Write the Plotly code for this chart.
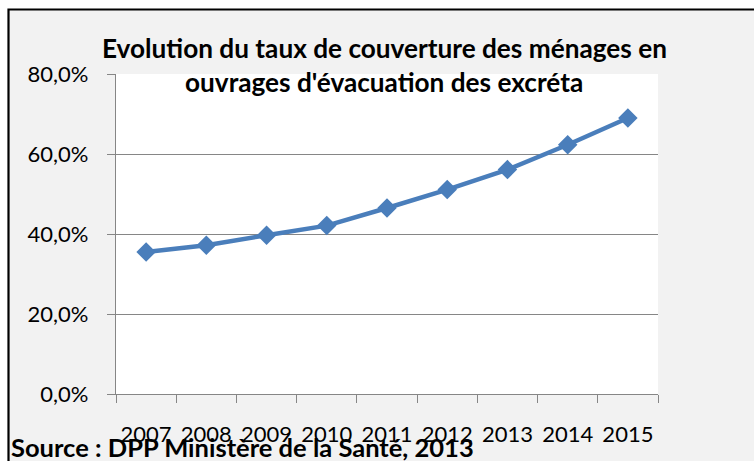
import plotly.graph_objects as go

years = ["2007", "2008", "2009", "2010", "2011", "2012", "2013", "2014", "2015"]
taux = [35.5, 37.2, 39.7, 42.1, 46.5, 51.1, 56.1, 62.3, 69.0]
y_ticks = [0, 20, 40, 60, 80]
y_tick_text = [f"{v:.1f}".replace(".", ",") + "%" for v in y_ticks]
title_l1 = "Evolution du taux de couverture des ménages en"
title_l2 = "ouvrages d'évacuation des excréta"
source = "Source : DPP Ministère de la Santé, 2013"

W, H = 754, 461
L, R, T, B = 116, 96, 74, 67
pw, ph = W - L - R, H - T - B

def px(x):
    return (x - L) / pw

def py(y):
    return (H - B - y) / ph

FONT = "Lato"
GRID = "#868686"

fig = go.Figure()
fig.add_trace(go.Scatter(
    x=years, y=taux, mode="lines+markers",
    line=dict(color="#4a7ebb", width=4.5),
    marker=dict(symbol="diamond", size=15, color="#4a7ebb"),
    showlegend=False, hoverinfo="x+y",
))

fig.update_layout(
    width=W, height=H,
    margin=dict(l=L, r=R, t=T, b=B, pad=0, autoexpand=False),
    paper_bgcolor="white",
    plot_bgcolor="white",
    font=dict(family=FONT, size=22, color="#000000"),
    shapes=[
        dict(type="rect", xref="paper", yref="paper",
             x0=px(8.5), x1=px(780), y0=py(9.5), y1=py(490),
             fillcolor="#f2f2f2", line=dict(color="black", width=2.2), layer="below"),
        dict(type="rect", xref="paper", yref="paper",
             x0=0, x1=1, y0=0, y1=1,
             fillcolor="white", line=dict(width=0), layer="below"),
    ],
    annotations=[
        dict(text="<b>" + title_l1 + "</b>", xref="paper", yref="paper",
             x=px(384), y=py(48), xanchor="center", yanchor="middle",
             showarrow=False, font=dict(size=26.2, family=FONT)),
        dict(text="<b>" + title_l2 + "</b>", xref="paper", yref="paper",
             x=px(384), y=py(82), xanchor="center", yanchor="middle",
             showarrow=False, font=dict(size=26.2, family=FONT)),
        dict(text="<b>" + source + "</b>", xref="paper", yref="paper",
             x=px(9), y=py(447), xanchor="left", yanchor="middle",
             showarrow=False, font=dict(size=25.5, family=FONT)),
    ],
)

fig.update_xaxes(
    type="category", showgrid=False, automargin=False,
    showline=True, linecolor=GRID, linewidth=1.3,
    ticks="outside", tickson="boundaries", ticklen=8, tickcolor=GRID, tickwidth=1.3,
    tickfont=dict(size=22, family=FONT), tickangle=0,
    ticklabelstandoff=20,
    range=[-0.5, len(years) - 0.5],
)
fig.update_yaxes(
    range=[0, 80], tickmode="array", tickvals=y_ticks, ticktext=y_tick_text,
    automargin=False,
    showgrid=True, gridcolor=GRID, gridwidth=1.3,
    showline=True, linecolor=GRID, linewidth=1.3,
    ticks="outside", ticklen=8, tickcolor=GRID, tickwidth=1.3,
    tickfont=dict(size=22, family=FONT),
    ticklabelstandoff=14,
    zeroline=False,
)

fig.write_html(
    "out.html",
    config={"displayModeBar": False},
    post_script="document.body.style.margin='0';document.body.style.overflow='hidden';",
)
